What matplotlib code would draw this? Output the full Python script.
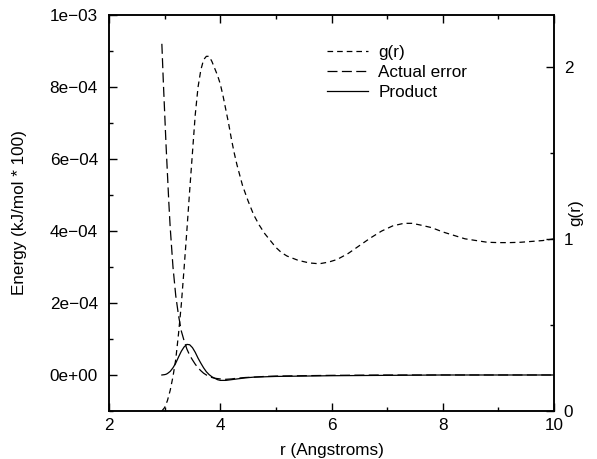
import numpy as np
import matplotlib
matplotlib.use("Agg")
from matplotlib import pyplot as plt
from matplotlib.ticker import FuncFormatter, MultipleLocator

plt.rcParams['font.family'] = ['Liberation Sans', 'DejaVu Sans']
plt.rcParams['font.size'] = 12.3

# radial distribution function g(r)
r_g = [2.95, 3.0, 3.05, 3.1, 3.15, 3.2, 3.25, 3.3, 3.35, 3.4, 3.45, 3.5, 3.55,
       3.6, 3.65, 3.7, 3.75, 3.8, 3.85, 3.9, 3.95, 4.0, 4.05, 4.1, 4.15, 4.2,
       4.25, 4.3, 4.35, 4.4, 4.5, 4.6, 4.7, 4.8, 4.9, 5.0, 5.1, 5.2, 5.4, 5.6,
       5.78, 5.95, 6.1, 6.3, 6.5, 6.7, 6.9, 7.1, 7.3, 7.45, 7.6, 7.8, 8.0, 8.2,
       8.4, 8.6, 8.8, 9.0, 9.2, 9.4, 9.6, 9.8, 10.0]
g_r = [0.0, 0.02, 0.06, 0.12, 0.2, 0.3, 0.45, 0.62, 0.83, 1.05, 1.28, 1.5, 1.72,
       1.88, 1.98, 2.04, 2.06, 2.06, 2.03, 1.99, 1.95, 1.9, 1.83, 1.75, 1.67,
       1.58, 1.5, 1.43, 1.37, 1.31, 1.22, 1.14, 1.08, 1.03, 0.99, 0.95, 0.92,
       0.9, 0.875, 0.86, 0.855, 0.865, 0.88, 0.915, 0.96, 1.005, 1.045, 1.075,
       1.09, 1.09, 1.08, 1.065, 1.04, 1.02, 1.0, 0.99, 0.98, 0.978, 0.978, 0.98,
       0.985, 0.99, 1.0]

# error in the energy and its product with g(r), in units of 1e-4
r_e = [2.95, 2.975, 3.0, 3.025, 3.05, 3.075, 3.1, 3.15, 3.2, 3.25, 3.3, 3.35,
       3.4, 3.45, 3.5, 3.55, 3.6, 3.65, 3.7, 3.75, 3.8, 3.85, 3.9, 3.95, 4.0,
       4.1, 4.2, 4.3, 4.45, 4.6, 4.8, 5.0, 5.5, 6.0, 7.0, 8.0, 9.0, 10.0]
err = [9.2, 8.2, 7.3, 6.4, 5.6, 4.8, 4.1, 3.0, 2.2, 1.65, 1.22, 0.95, 0.72,
       0.55, 0.42, 0.3, 0.2, 0.12, 0.05, 0.0, -0.04, -0.07, -0.09, -0.1, -0.11,
       -0.12, -0.11, -0.09, -0.07, -0.06, -0.04, -0.03, -0.02, -0.01, 0.0, 0.0,
       0.0, 0.0]
prod = [0.0, 0.005, 0.01, 0.02, 0.04, 0.07, 0.1, 0.2, 0.33, 0.5, 0.66, 0.78,
        0.85, 0.84, 0.76, 0.63, 0.47, 0.33, 0.2, 0.09, 0.01, -0.05, -0.09,
        -0.13, -0.15, -0.15, -0.13, -0.11, -0.08, -0.06, -0.05, -0.04, -0.03,
        -0.02, -0.01, 0.0, 0.0, 0.0]

fig = plt.figure(figsize=(5.97, 4.59), dpi=100)
ax = fig.add_axes([0.1826, 0.1046, 0.7454, 0.8627])
ax2 = ax.twinx()

lg, = ax2.plot(r_g, g_r, color='black', lw=0.9, dashes=(4.5, 3.2), label='g(r)')
le, = ax.plot(r_e, np.array(err) * 1e-4, color='black', lw=0.9, dashes=(8, 3.5),
              label='Actual error')
lp, = ax.plot(r_e, np.array(prod) * 1e-4, color='black', lw=0.9, label='Product')

ax.set_xlim(2, 10)
ax.set_ylim(-1e-4, 1e-3)
ax2.set_ylim(0, 2.3)

ax.xaxis.set_major_locator(MultipleLocator(2))
ax.xaxis.set_minor_locator(MultipleLocator(1))
ax.yaxis.set_major_locator(MultipleLocator(2e-4))
ax.yaxis.set_minor_locator(MultipleLocator(1e-4))
ax2.yaxis.set_major_locator(MultipleLocator(1))
ax2.yaxis.set_minor_locator(MultipleLocator(0.5))

ax.yaxis.set_major_formatter(FuncFormatter(lambda v, p: f"{v:.0e}".replace('-', '\u2212')))

ax.tick_params(which='both', direction='in', top=True, right=False, width=1)
ax.tick_params(which='major', length=6)
ax.tick_params(which='minor', length=3)
ax.tick_params(axis='x', pad=5)
ax.tick_params(axis='y', pad=8)
ax2.tick_params(which='both', direction='in', width=1, pad=7)
ax2.tick_params(which='major', length=6)
ax2.tick_params(which='minor', length=3)

for a in (ax, ax2):
    for s in a.spines.values():
        s.set_linewidth(1.1)

ax.set_xlabel('r (Angstroms)', labelpad=7)
ax.set_ylabel('Energy (kJ/mol * 100)')
ax.yaxis.set_label_coords(-0.184, 0.5)
ax2.set_ylabel('g(r)')
ax2.yaxis.set_label_coords(1.031, 0.5)

ax2.legend(handles=[lg, le, lp], loc='upper left', bbox_to_anchor=(0.49, 0.925),
           frameon=False, handlelength=2.4, handletextpad=0.6,
           labelspacing=0.3, borderpad=0, borderaxespad=0)

fig.savefig('out.png', dpi=100)
